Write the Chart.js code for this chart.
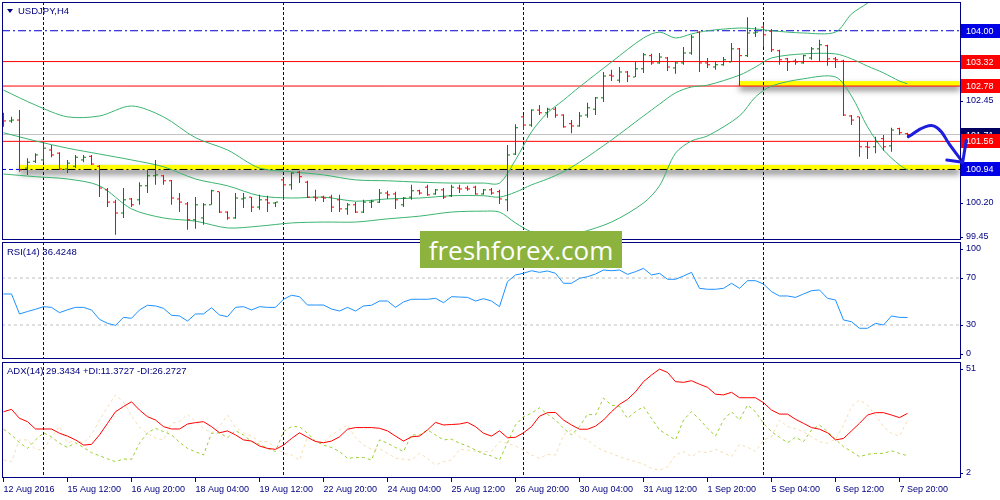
<!DOCTYPE html>
<html>
<head>
<meta charset="utf-8">
<title>USDJPY,H4</title>
<script src="https://cdn.jsdelivr.net/npm/chart.js@4.4.1/dist/chart.umd.min.js"></script>
<style>
  html, body { margin: 0; padding: 0; background: #ffffff; }
  #chart { position: relative; width: 1000px; height: 500px; overflow: hidden; }
  #chart canvas { position: absolute; left: 0; }
  .label { position: absolute; left: 7px; font: 9.5px 'Liberation Sans', Arial, sans-serif; color: #000080; white-space: nowrap; line-height: 11px; }
  #symbol { left: 18px; top: 5px; }
  #menu { position: absolute; left: 7px; top: 9px; width: 0; height: 0; border-left: 3px solid transparent; border-right: 3px solid transparent; border-top: 4px solid #000080; }
  #logo { position: absolute; left: 420px; top: 231px; width: 202px; height: 37px; background: #8cb33e; color: #ffffff; font: 26px 'Open Sans', sans-serif; display: flex; align-items: center; justify-content: center; }
</style>
</head>
<body>
<div id="chart">
  <canvas id="mainChart" width="1000" height="241" style="top:0px"></canvas>
  <canvas id="rsiChart" width="1000" height="119" style="top:241px"></canvas>
  <canvas id="adxChart" width="1000" height="140" style="top:360px"></canvas>
  <div id="menu"></div>
  <div class="label" id="symbol">USDJPY,H4</div>
  <div class="label" style="top:246px">RSI(14) 36.4248</div>
  <div class="label" style="top:365px">ADX(14) 29.3434 +DI:11.3727 -DI:26.2727</div>
  <div id="logo">freshforex.com</div>
</div>
<script>
// ---- H4 bars, 12 Aug - 8 Sep 2016 (bar index 0..113) ----
const opens = [102.03,102.01,102.03,100.97,101.12,101.15,101.37,101.30,100.95,101.01,
  101.15,101.23,101.01,100.49,100.22,99.98,100.29,100.27,100.58,100.80,
  100.80,100.69,100.29,100.18,99.83,99.87,100.16,100.45,100.00,99.87,
  100.29,100.33,100.11,100.27,100.20,100.71,100.60,100.88,100.66,100.33,
  100.33,100.33,100.27,100.07,100.16,100.00,100.22,100.22,100.42,100.40,
  100.16,100.33,100.47,100.55,100.40,100.49,100.36,100.53,100.53,100.55,
  100.40,100.49,100.45,100.27,101.28,102.10,101.92,102.25,102.19,102.27,
  102.14,101.95,101.90,102.14,102.27,102.52,103.02,102.91,103.09,102.98,
  103.16,103.45,103.29,103.40,103.18,103.29,103.51,103.97,103.29,103.20,
  103.25,103.31,103.60,103.45,103.95,104.08,103.99,103.56,103.38,103.33,
  103.29,103.40,103.60,103.67,103.38,103.33,102.12,102.10,101.44,101.44,
  101.62,101.46,101.84,101.73];
const highs = [102.19,102.10,102.25,101.19,101.30,101.52,101.48,101.32,101.15,101.26,
  101.26,101.26,101.04,100.53,100.27,100.53,100.31,100.66,100.93,101.15,
  100.82,100.71,100.42,100.22,100.33,100.20,100.49,100.45,100.02,100.42,
  100.42,100.33,100.38,100.36,100.22,100.73,100.88,100.91,100.69,100.49,
  100.36,100.38,100.38,100.20,100.22,100.27,100.27,100.51,100.47,100.45,
  100.33,100.60,100.49,100.60,100.51,100.53,100.60,100.60,100.58,100.58,
  100.51,100.53,100.49,101.48,101.94,102.14,102.27,102.36,102.30,102.32,
  102.16,102.03,102.21,102.41,102.54,103.09,103.14,103.20,103.11,103.31,
  103.51,103.49,103.51,103.42,103.31,103.64,103.91,103.99,103.40,103.31,
  103.42,103.73,103.62,104.30,104.08,104.13,104.04,103.58,103.40,103.38,
  103.47,103.64,103.80,103.69,103.42,103.36,102.14,102.10,101.55,101.66,
  101.70,101.86,101.86,101.75];
const lows = [101.88,101.97,100.89,100.82,101.08,101.10,101.21,100.93,100.86,100.97,
  101.10,101.04,100.33,100.11,99.50,99.87,100.11,100.16,100.42,100.60,
  100.60,100.16,100.00,99.61,99.63,99.72,100.16,99.98,99.83,99.85,
  100.09,100.00,100.05,100.00,100.11,100.27,100.49,100.64,100.31,100.24,
  100.22,100.00,100.00,99.94,99.98,99.98,100.09,100.20,100.29,100.07,
  100.11,100.27,100.38,100.36,100.38,100.29,100.33,100.42,100.47,100.38,
  100.38,100.38,100.18,100.02,101.26,101.81,101.88,102.14,102.08,102.08,
  101.86,101.74,101.88,102.08,102.14,102.43,102.89,102.85,102.87,102.98,
  103.07,103.25,103.27,103.11,103.05,103.25,103.47,103.09,103.18,103.14,
  103.23,103.31,102.78,103.42,103.86,103.64,103.53,103.25,103.11,103.25,
  103.27,103.36,103.31,103.23,103.18,102.12,101.92,101.22,101.17,101.30,
  101.35,101.33,101.70,101.66];
const closes = [102.01,102.03,100.93,101.10,101.26,101.41,101.26,100.95,101.08,101.21,
  101.21,101.06,100.53,100.22,99.98,100.27,100.16,100.58,100.80,100.82,
  100.69,100.31,100.22,99.83,100.16,100.16,100.47,100.00,99.87,100.31,
  100.31,100.11,100.27,100.20,100.22,100.60,100.86,100.78,100.33,100.31,
  100.31,100.11,100.07,100.16,100.00,100.22,100.24,100.42,100.38,100.27,
  100.31,100.47,100.42,100.38,100.49,100.33,100.55,100.51,100.51,100.40,
  100.49,100.42,100.29,101.26,101.86,101.92,102.25,102.19,102.27,102.14,
  101.88,101.90,102.12,102.30,102.52,103.00,103.00,103.09,103.00,103.16,
  103.47,103.29,103.42,103.20,103.29,103.51,103.86,103.29,103.25,103.25,
  103.36,103.60,103.45,103.95,103.97,103.91,103.58,103.36,103.31,103.31,
  103.45,103.60,103.69,103.38,103.36,102.14,102.03,101.44,101.43,101.55,
  101.44,101.81,101.75,101.71];

// Bollinger bands at these bars
const bbIdx = [0,4,8,12,16,20,24,28,32,36,40,44,48,52,56,60,62,64,66,68,
  70,72,76,80,82,84,86,88,92,94,96,100,104,106,108,110,112,113];
const bbUpper = [102.69,102.36,102.10,102.12,102.34,102.10,101.64,101.37,100.97,100.89,
  100.82,100.71,100.69,100.66,100.64,100.64,100.64,101.15,101.77,102.19,
  102.47,102.76,103.31,103.84,103.97,103.84,103.93,104.00,104.06,104.04,
  104.00,103.95,103.97,104.37,104.61,104.90,105.12,105.23];
const bbMid = [101.75,101.57,101.41,101.28,101.15,101.00,100.73,100.58,100.36,100.31,
  100.33,100.24,100.29,100.31,100.36,100.36,100.33,100.44,100.60,100.73,
  100.89,101.10,101.59,102.12,102.38,102.63,102.76,102.80,103.02,103.20,
  103.40,103.49,103.49,103.38,103.22,103.07,102.89,102.83];
const bbLow = [100.84,100.78,100.73,100.58,100.07,99.87,99.80,99.65,99.69,99.76,
  99.78,99.78,99.85,99.91,100.00,100.02,100.00,99.76,99.56,99.47,
  99.47,99.54,99.78,100.20,100.58,101.30,101.57,101.68,102.12,102.54,
  102.78,102.94,102.98,102.56,101.88,101.37,101.04,100.93];

// indicators
const rsi = [56.4,56.4,39.4,41.5,43.4,45.6,45.0,40.5,43.0,45.0,
  45.0,42.8,34.8,31.4,29.7,36.5,35.7,42.8,46.8,46.2,
  44.2,38.3,37.7,33.4,39.4,39.4,44.7,38.5,37.1,45.0,
  45.6,42.8,45.6,45.0,45.0,51.9,55.3,54.1,47.0,47.0,
  47.0,43.6,41.9,45.0,41.9,46.2,46.8,50.4,50.4,45.0,
  49.6,51.9,51.9,51.9,52.7,49.0,54.1,53.8,53.5,50.4,
  52.4,50.4,45.6,66.9,72.6,74.0,76.2,74.8,76.0,74.0,
  65.5,65.5,69.7,71.1,73.4,76.8,76.2,76.8,73.1,75.4,
  78.2,72.6,74.0,68.9,68.9,71.7,74.8,61.2,60.4,60.4,
  61.2,65.5,61.2,67.7,67.7,64.9,58.4,54.7,54.7,53.5,
  56.4,59.2,59.8,52.7,51.3,34.3,32.8,27.2,27.2,31.4,
  30.0,37.7,36.5,36.4];
const adx = [30.0,31.0,27.2,25.8,22.7,22.7,22.7,20.9,19.7,18.1,
  15.9,16.2,20.2,25.1,30.0,32.2,34.2,30.7,27.9,26.5,
  23.7,22.7,22.7,24.8,25.4,25.8,23.7,21.1,21.9,20.2,
  18.1,17.6,15.5,14.5,14.1,15.9,18.7,21.1,19.2,17.4,
  16.9,17.6,19.4,22.6,23.3,23.3,23.3,23.0,21.9,19.7,
  17.6,19.4,19.7,22.3,25.5,24.4,24.6,24.8,25.5,23.7,
  20.9,19.7,21.9,19.0,19.2,21.1,23.7,28.1,29.6,29.7,
  26.5,24.4,22.6,22.6,23.9,26.5,30.0,33.1,35.2,38.4,
  42.7,45.5,48.0,46.6,42.7,42.4,43.1,41.6,40.3,37.4,
  37.1,38.2,35.9,35.9,35.9,33.8,30.7,29.0,29.0,26.8,
  25.1,23.3,22.6,21.1,18.1,18.7,21.9,25.1,28.6,29.6,
  29.6,28.6,27.5,29.3];
const plusDI = [22.6,20.2,16.9,14.5,18.1,21.1,19.4,16.7,14.9,16.9,
  14.9,12.7,11.4,10.1,8.9,10.0,9.9,16.7,21.1,23.0,
  21.6,20.2,17.1,14.5,13.1,11.7,20.9,21.1,19.0,22.0,
  20.2,17.4,16.2,14.5,13.2,21.6,23.7,23.7,20.9,17.6,
  15.9,14.9,13.2,10.3,10.6,10.7,9.6,18.1,16.7,14.9,
  13.2,20.2,20.2,22.3,20.2,18.1,18.4,16.7,15.5,13.8,
  12.2,11.3,9.6,16.9,24.4,27.9,29.3,31.7,28.9,26.5,
  23.0,20.2,23.7,28.9,28.6,35.7,32.8,32.2,27.2,30.0,
  32.2,27.2,22.3,20.2,18.1,26.5,30.0,26.8,23.0,19.7,
  26.5,30.0,26.5,32.8,30.0,25.1,21.6,19.2,16.9,19.2,
  17.4,22.3,24.4,21.6,18.4,15.2,13.2,11.0,12.0,12.4,
  12.4,13.5,12.4,11.4];
const minusDI = [9.6,8.9,18.1,18.1,14.1,13.8,19.4,23.7,16.7,18.1,
  16.7,20.2,26.5,31.9,37.1,34.1,28.3,23.4,20.7,18.9,
  18.1,25.1,25.8,28.9,25.8,23.0,21.1,23.7,28.6,23.4,
  21.1,19.7,17.4,17.4,14.9,12.4,11.7,9.6,19.4,17.6,
  16.9,20.2,22.3,24.4,19.0,15.9,14.1,14.3,12.4,10.4,
  9.9,9.6,12.4,10.3,7.5,8.9,9.6,14.1,13.8,13.3,
  13.2,13.2,17.4,16.7,15.5,13.8,11.7,10.3,12.0,11.7,
  20.2,22.3,19.4,18.1,15.3,13.5,12.4,11.0,9.9,8.9,
  7.9,6.0,5.3,6.7,11.7,13.2,11.0,13.2,12.7,14.1,
  12.7,11.0,16.2,15.0,13.2,18.1,19.4,26.5,23.7,22.8,
  21.6,19.4,17.4,16.7,18.4,24.4,32.2,34.9,32.8,28.6,
  23.7,20.9,19.7,26.3];

// horizontal objects (price, first/last bar; null = whole width)
const levelPrices = [104.00, 103.32, 102.78, 101.71, 101.56, 100.94, 100.94];
const levelFrom = [null, null, null, null, null, 2, null];
const levelTo = [null, null, null, null, null, null, 2];
const zoneStart = [92, 2];
const zoneLow = [102.78, 100.93];
const zoneHigh = [102.89, 101.04];
const boxPrices = [104.00, 103.32, 102.78, 101.71, 101.56, 100.94];

// hand-drawn forecast arrow
const forecastIdx = [113.1, 115.2, 116.7, 118.3, 119.9];
const forecastPrice = [101.66, 101.88, 101.86, 101.48, 101.10];

// axes
const priceTicks = [103.95, 103.20, 102.45, 101.70, 100.95, 100.20, 99.45];
const rsiTicks = [100, 70, 30, 0];
const rsiLevels = [70, 30];
const adxTicks = [51, 2];
const weekStarts = [5, 35, 65, 95];
const timeTickIdx = [0, 8, 16, 24, 32, 40, 48, 56, 64, 72, 80, 88, 96, 104, 112];
const timeLabels = ['12 Aug 2016', '15 Aug 12:00', '16 Aug 20:00', '18 Aug 04:00', '19 Aug 12:00',
  '22 Aug 20:00', '24 Aug 04:00', '25 Aug 12:00', '26 Aug 20:00', '30 Aug 04:00',
  '31 Aug 12:00', '1 Sep 20:00', '5 Sep 04:00', '6 Sep 12:00', '7 Sep 20:00'];

// ---- styles ----
const NAVY = '#000080';
const BULL = '#008000';
const BEAR = '#ff0000';
const FONT_FAMILY = "'Liberation Sans', Arial, sans-serif";
const AXIS_FONT = { family: FONT_FAMILY, size: 9 };
const X_MIN = -0.1875, X_MAX = 119.5625;
const TICK_SHIFT = 0.1875;
const levelStyles = [
  { color: '#0000cd', dash: [8, 3, 2, 3] },
  { color: '#ff0000', dash: [] },
  { color: '#ff0000', dash: [] },
  { color: '#c0c0c0', dash: [] },
  { color: '#ff0000', dash: [] },
  { color: '#000000', dash: [8, 3, 2, 3] },
  { color: '#0000ff', dash: [4, 3] }
];
const boxColors = ['#0000e6', '#ff0000', '#ff0000', '#000060', '#ff0000', '#0000e6'];
const ARROW = '#1d1de0';

Chart.defaults.font.family = FONT_FAMILY;

function timeAxis(show) {
  return {
    type: 'linear', min: X_MIN, max: X_MAX, offset: false, display: show,
    afterBuildTicks: s => { s.ticks = timeTickIdx.map(v => ({ value: v })); },
    afterFit: s => { s.height = show ? 22 : 0; s.paddingLeft = 0; s.paddingRight = 0; },
    border: { display: false },
    grid: { drawOnChartArea: false, offset: false, tickLength: 4, color: NAVY },
    ticks: {
      autoSkip: false, maxRotation: 0, minRotation: 0, align: 'start', padding: 2,
      color: NAVY, font: AXIS_FONT, callback: (v, i) => timeLabels[i]
    }
  };
}

function valueAxis(min, max, labels) {
  return {
    position: 'right', min: min, max: max,
    afterFit: s => { s.width = 40; s.paddingTop = 0; s.paddingBottom = 0; },
    afterBuildTicks: labels ? (s => { s.ticks = labels.map(v => ({ value: v })); }) : undefined,
    border: { display: false },
    grid: { drawOnChartArea: false, drawTicks: !!labels, tickLength: 3, color: NAVY },
    ticks: { display: !!labels, color: NAVY, font: AXIS_FONT, padding: 3, callback: v => v.toFixed(2) }
  };
}

function baseOptions(padding, yAxis, showTime) {
  return {
    responsive: false,
    animation: false,
    events: [],
    devicePixelRatio: 1,
    layout: { autoPadding: false, padding: padding },
    plugins: { legend: { display: false }, tooltip: { enabled: false } },
    scales: { x: timeAxis(showTime), y: yAxis }
  };
}

// ---- plugins ----
const framePlugin = {
  id: 'frame',
  afterDatasetsDraw(chart) {
    const { ctx, chartArea: a } = chart;
    ctx.save();
    ctx.strokeStyle = NAVY;
    ctx.lineWidth = 1;
    ctx.strokeRect(a.left + 0.5, a.top + 0.5, a.right - a.left, a.bottom - a.top - 1);
    ctx.restore();
  }
};

const separatorPlugin = {
  id: 'separators',
  beforeDatasetsDraw(chart) {
    const { ctx, chartArea: a, scales: { x } } = chart;
    ctx.save();
    ctx.strokeStyle = NAVY;
    ctx.lineWidth = 1;
    ctx.setLineDash([3, 2]);
    weekStarts.forEach(v => {
      const px = Math.floor(x.getPixelForValue(v)) + 0.5;
      ctx.beginPath();
      ctx.moveTo(px, a.top);
      ctx.lineTo(px, a.bottom);
      ctx.stroke();
    });
    ctx.restore();
  }
};

const zonePlugin = {
  id: 'zones',
  beforeDatasetsDraw(chart) {
    const { ctx, chartArea: a, scales: { x, y } } = chart;
    ctx.save();
    ctx.beginPath();
    ctx.rect(a.left, a.top, a.right - a.left, a.bottom - a.top);
    ctx.clip();
    zoneStart.forEach((s, k) => {
      const x0 = x.getPixelForValue(s);
      const y0 = y.getPixelForValue(zoneHigh[k]);
      const y1 = y.getPixelForValue(zoneLow[k]);
      ctx.shadowColor = 'rgba(0,0,0,0.55)';
      ctx.shadowBlur = 6;
      ctx.shadowOffsetY = 4;
      ctx.fillStyle = '#ffff00';
      ctx.fillRect(x0, y0, a.right - x0, y1 - y0);
    });
    ctx.restore();
  }
};

const boxPlugin = {
  id: 'priceBoxes',
  afterDraw(chart) {
    const { ctx, chartArea: a, scales: { y } } = chart;
    ctx.save();
    ctx.font = '9px ' + FONT_FAMILY;
    ctx.textBaseline = 'middle';
    boxPrices.forEach((p, k) => {
      const py = Math.round(y.getPixelForValue(p));
      ctx.fillStyle = boxColors[k];
      ctx.fillRect(a.right + 1, py - 7, 39, 14);
      ctx.fillStyle = '#ffffff';
      ctx.fillText(p.toFixed(2), a.right + 6, py + 0.5);
    });
    ctx.restore();
  }
};

const arrowPlugin = {
  id: 'arrowHead',
  afterDraw(chart) {
    const i = chart.data.datasets.findIndex(d => d.label === 'forecast');
    const pts = chart.getDatasetMeta(i).data;
    const tip = pts[pts.length - 1];
    let fx = tip.cp1x, fy = tip.cp1y;
    if (fx === undefined || Math.hypot(tip.x - fx, tip.y - fy) < 1) {
      fx = pts[pts.length - 2].x; fy = pts[pts.length - 2].y;
    }
    const ang = Math.atan2(tip.y - fy, tip.x - fx) + Math.PI;
    const { ctx } = chart;
    ctx.save();
    ctx.strokeStyle = ARROW;
    ctx.lineWidth = 3;
    ctx.lineCap = 'round';
    [[0.8, 22], [-0.8, 16]].forEach(([d, len]) => {
      ctx.beginPath();
      ctx.moveTo(tip.x, tip.y);
      ctx.lineTo(tip.x + Math.cos(ang + d) * len, tip.y + Math.sin(ang + d) * len);
      ctx.stroke();
    });
    ctx.restore();
  }
};

function sideLabelPlugin(values) {
  return {
    id: 'sideLabels',
    afterDraw(chart) {
      const { ctx, chartArea: a, scales: { y } } = chart;
      ctx.save();
      ctx.font = '9px ' + FONT_FAMILY;
      ctx.fillStyle = NAVY;
      ctx.strokeStyle = NAVY;
      ctx.textBaseline = 'middle';
      values.forEach(v => {
        const py = Math.min(Math.max(y.getPixelForValue(v), a.top + 7), a.bottom - 5.5);
        const ly = Math.round(py) + 0.5;
        ctx.beginPath();
        ctx.moveTo(a.right, ly);
        ctx.lineTo(a.right + 3, ly);
        ctx.stroke();
        ctx.fillText(String(v), a.right + 6, py);
      });
      ctx.restore();
    }
  };
}

function hLine(price, from, to, style) {
  return {
    type: 'line',
    data: [{ x: from === null ? X_MIN : from, y: price }, { x: to === null ? X_MAX : to, y: price }],
    borderColor: style.color, borderWidth: 1, borderDash: style.dash,
    pointRadius: 0, order: 4
  };
}

function series(values, color, dash, order) {
  return {
    type: 'line',
    data: values.map((v, i) => ({ x: i, y: v })),
    borderColor: color, borderWidth: 1, borderDash: dash || [],
    pointRadius: 0, tension: 0, order: order
  };
}

// ---- main pane ----
const barColors = closes.map((c, i) => (c >= opens[i] ? BULL : BEAR));
const bandLine = vals => ({
  type: 'line',
  data: bbIdx.map((v, k) => ({ x: v, y: vals[k] })),
  borderColor: '#3cb371', borderWidth: 1, pointRadius: 0, tension: 0.3, order: 3
});

const mainDatasets = [
  {
    type: 'bar', label: 'range',
    data: highs.map((h, i) => ({ x: i, y: [lows[i], h] })),
    backgroundColor: barColors, borderWidth: 0, barThickness: 1, inflateAmount: 0, order: 1
  },
  {
    type: 'line', label: 'open', showLine: false,
    data: opens.map((o, i) => ({ x: i - TICK_SHIFT, y: o })),
    pointStyle: 'line', pointRadius: 1, pointBorderWidth: 1, pointBorderColor: barColors, order: 1
  },
  {
    type: 'line', label: 'close', showLine: false,
    data: closes.map((c, i) => ({ x: i + TICK_SHIFT, y: c })),
    pointStyle: 'line', pointRadius: 1, pointBorderWidth: 1, pointBorderColor: barColors, order: 1
  },
  bandLine(bbUpper),
  bandLine(bbMid),
  bandLine(bbLow)
];
levelPrices.forEach((p, k) => mainDatasets.push(hLine(p, levelFrom[k], levelTo[k], levelStyles[k])));
mainDatasets.push({
  type: 'line', label: 'forecast',
  data: forecastIdx.map((v, k) => ({ x: v, y: forecastPrice[k] })),
  borderColor: ARROW, borderWidth: 3, borderCapStyle: 'round', tension: 0.45,
  pointRadius: 0, clip: false, order: 0
});

new Chart(document.getElementById('mainChart'), {
  type: 'bar',
  data: { datasets: mainDatasets },
  options: baseOptions({ left: 2, right: 0, top: 2, bottom: 1 }, valueAxis(99.384, 104.634, priceTicks), false),
  plugins: [zonePlugin, separatorPlugin, framePlugin, boxPlugin, arrowPlugin]
});

// ---- RSI pane ----
const rsiDatasets = rsiLevels.map(v => hLine(v, null, null, { color: '#c0c0c0', dash: [3, 3] }));
rsiDatasets.push(series(rsi, '#1e90ff', null, 1));

new Chart(document.getElementById('rsiChart'), {
  type: 'line',
  data: { datasets: rsiDatasets },
  options: baseOptions({ left: 2, right: 0, top: 1, bottom: 1 }, valueAxis(1.06, 100.64, null), false),
  plugins: [separatorPlugin, framePlugin, sideLabelPlugin(rsiTicks)]
});

// ---- ADX pane ----
new Chart(document.getElementById('adxChart'), {
  type: 'line',
  data: {
    datasets: [
      series(adx, '#ff0000', null, 1),
      series(plusDI, '#9acd32', [3, 3], 2),
      series(minusDI, '#f5deb3', [3, 3], 3)
    ]
  },
  options: baseOptions({ left: 2, right: 0, top: 2, bottom: 0 }, valueAxis(2, 51, null), true),
  plugins: [separatorPlugin, framePlugin, sideLabelPlugin(adxTicks)]
});
</script>
</body>
</html>
